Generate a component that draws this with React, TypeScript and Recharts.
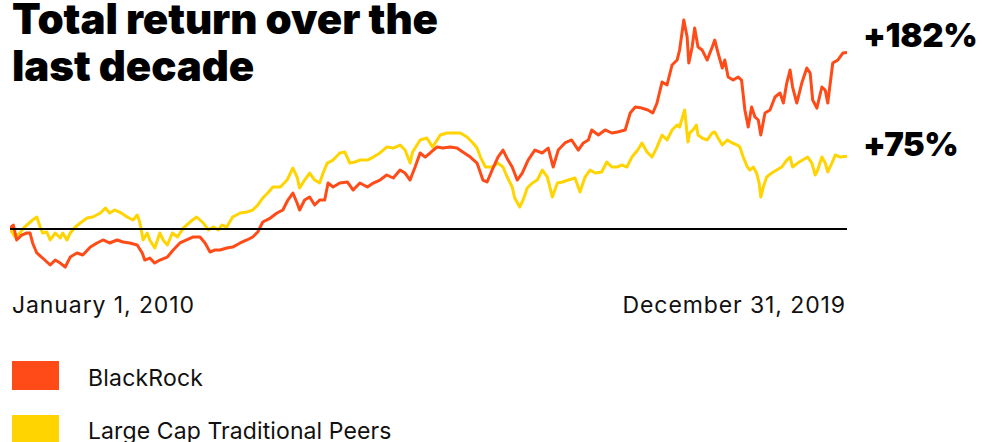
import React from "react";
import { LineChart, Line, XAxis, YAxis, ReferenceLine } from "recharts";

// Years since Jan 1, 2010 and total return (%)
const blackrockYears = [
  0.0, 0.04, 0.08, 0.14, 0.2, 0.24, 0.27, 0.32, 0.39, 0.48, 0.54, 0.6, 0.66, 0.72, 0.8, 0.87, 0.96, 1.04, 1.11, 1.19,
  1.28, 1.35, 1.43, 1.52, 1.58, 1.61, 1.67, 1.73, 1.79, 1.88, 1.95, 2.03, 2.11, 2.19, 2.27, 2.33, 2.39, 2.45, 2.51, 2.59,
  2.66, 2.75, 2.83, 2.9, 2.96, 3.02, 3.11, 3.19, 3.26, 3.32, 3.38, 3.43, 3.46, 3.52, 3.58, 3.64, 3.7, 3.76, 3.8, 3.86,
  3.94, 4.03, 4.1, 4.18, 4.27, 4.34, 4.42, 4.5, 4.58, 4.66, 4.72, 4.78, 4.84, 4.9, 4.96, 5.02, 5.1, 5.17, 5.26, 5.34,
  5.41, 5.5, 5.58, 5.65, 5.7, 5.76, 5.83, 5.89, 5.95, 6.0, 6.06, 6.12, 6.19, 6.27, 6.36, 6.43, 6.49, 6.55, 6.63, 6.71,
  6.79, 6.85, 6.91, 6.95, 7.03, 7.11, 7.19, 7.26, 7.35, 7.41, 7.47, 7.55, 7.62, 7.68, 7.73, 7.79, 7.85, 7.91, 7.97, 8.0,
  8.05, 8.09, 8.11, 8.15, 8.18, 8.22, 8.27, 8.33, 8.39, 8.42, 8.46, 8.51, 8.54, 8.58, 8.64, 8.7, 8.74, 8.78, 8.82, 8.86,
  8.9, 8.94, 8.97, 9.02, 9.08, 9.14, 9.2, 9.24, 9.28, 9.32, 9.35, 9.4, 9.46, 9.52, 9.56, 9.59, 9.64, 9.7, 9.74, 9.77,
  9.8, 9.83, 9.89, 9.95, 10.0,
];
const blackrockReturns = [
  1.0, 4.1, -11.3, -6.2, -4.1, -4.1, -14.4, -24.7, -29.9, -37.1, -32.0, -35.1, -39.2, -28.9, -24.7, -26.8, -18.6, -14.4, -11.3, -14.4,
  -11.3, -13.4, -14.4, -16.5, -24.7, -32.0, -29.9, -35.1, -32.0, -28.9, -21.6, -14.4, -11.3, -8.2, -8.2, -14.4, -23.7, -21.6, -21.6, -19.6,
  -18.6, -14.4, -11.3, -8.2, -3.1, 7.2, 11.3, 16.5, 19.6, 29.9, 37.1, 26.8, 19.6, 29.9, 33.0, 24.7, 29.9, 29.9, 47.4, 43.3,
  47.4, 48.5, 40.2, 47.4, 43.3, 47.4, 50.5, 55.7, 52.6, 60.8, 57.7, 50.5, 63.9, 78.4, 74.2, 78.4, 84.5, 83.5, 84.5, 83.5,
  79.4, 74.2, 68.0, 50.5, 48.5, 60.8, 74.2, 81.4, 71.1, 63.9, 50.5, 57.7, 71.1, 81.4, 78.4, 83.5, 63.9, 81.4, 88.7, 91.8,
  81.4, 88.7, 91.8, 102.1, 96.9, 102.1, 99.0, 100.0, 102.1, 119.6, 125.8, 124.7, 122.7, 119.6, 129.9, 151.5, 148.5, 169.1, 174.2, 184.5,
  215.5, 197.9, 171.1, 187.6, 207.2, 187.6, 184.5, 174.2, 187.6, 194.8, 181.4, 166.0, 174.2, 156.7, 153.6, 156.7, 153.6, 122.7, 105.2, 125.8,
  115.5, 112.4, 96.9, 119.6, 122.7, 136.1, 140.2, 129.9, 150.5, 163.9, 146.4, 129.9, 150.5, 166.0, 160.8, 133.0, 124.7, 146.4, 143.3, 129.9,
  150.5, 171.1, 174.2, 181.4, 182.0,
];

const peersYears = [
  0.0, 0.06, 0.12, 0.16, 0.2, 0.27, 0.32, 0.36, 0.39, 0.44, 0.48, 0.54, 0.6, 0.63, 0.68, 0.72, 0.78, 0.84, 0.92, 0.99,
  1.08, 1.14, 1.19, 1.25, 1.31, 1.4, 1.47, 1.52, 1.55, 1.59, 1.64, 1.67, 1.73, 1.79, 1.83, 1.88, 1.94, 2.0, 2.07, 2.15,
  2.23, 2.31, 2.37, 2.43, 2.49, 2.53, 2.59, 2.66, 2.75, 2.83, 2.9, 2.96, 3.02, 3.08, 3.14, 3.23, 3.31, 3.35, 3.38, 3.43,
  3.46, 3.52, 3.58, 3.64, 3.7, 3.74, 3.79, 3.86, 3.94, 4.0, 4.06, 4.12, 4.18, 4.27, 4.34, 4.42, 4.5, 4.58, 4.66, 4.72,
  4.78, 4.81, 4.9, 4.98, 5.05, 5.14, 5.22, 5.29, 5.38, 5.46, 5.53, 5.58, 5.62, 5.68, 5.76, 5.83, 5.89, 5.94, 6.0, 6.03,
  6.09, 6.13, 6.18, 6.24, 6.3, 6.36, 6.42, 6.48, 6.54, 6.6, 6.67, 6.75, 6.81, 6.87, 6.93, 6.99, 7.07, 7.13, 7.19, 7.25,
  7.31, 7.37, 7.43, 7.47, 7.5, 7.55, 7.61, 7.67, 7.73, 7.79, 7.85, 7.91, 7.97, 8.0, 8.06, 8.1, 8.12, 8.16, 8.2, 8.22,
  8.27, 8.33, 8.39, 8.42, 8.46, 8.51, 8.57, 8.63, 8.69, 8.72, 8.76, 8.81, 8.84, 8.88, 8.92, 8.95, 8.97, 9.0, 9.04, 9.1,
  9.16, 9.22, 9.28, 9.32, 9.35, 9.41, 9.47, 9.53, 9.58, 9.62, 9.65, 9.7, 9.74, 9.77, 9.82, 9.86, 9.92, 10.0,
];
const peersReturns = [
  0.0, -8.2, -4.1, 1.0, 4.1, 9.3, 12.4, 2.1, -4.1, -3.1, -11.3, -4.1, -9.3, -4.1, -11.3, -4.1, 2.1, 6.2, 11.3, 12.4,
  16.5, 21.6, 16.5, 19.6, 17.5, 12.4, 9.3, 14.4, 7.2, -11.3, -4.1, -11.3, -19.6, -4.1, -11.3, -16.5, -4.1, -8.2, 1.0, 7.2,
  12.4, 6.2, -1.0, 2.1, -1.0, 4.1, 2.1, 12.4, 16.5, 17.5, 19.6, 24.7, 32.0, 37.1, 43.3, 43.3, 50.5, 57.7, 62.9, 53.6,
  42.3, 50.5, 57.7, 50.5, 47.4, 57.7, 68.0, 71.1, 78.4, 79.4, 68.0, 69.1, 71.1, 71.1, 74.2, 78.4, 84.5, 83.5, 86.6, 81.4,
  68.0, 79.4, 91.8, 93.8, 84.5, 96.9, 99.0, 99.0, 99.0, 94.8, 88.7, 83.5, 74.2, 63.9, 63.9, 68.0, 63.9, 53.6, 43.3, 32.0,
  22.7, 29.9, 42.3, 47.4, 50.5, 60.8, 53.6, 33.0, 47.4, 48.5, 50.5, 52.6, 38.1, 53.6, 60.8, 57.7, 58.8, 69.1, 63.9, 63.9,
  66.0, 63.9, 74.2, 78.4, 81.4, 88.7, 79.4, 74.2, 84.5, 96.9, 91.8, 102.1, 107.2, 105.2, 122.7, 89.7, 99.0, 102.1, 107.2, 96.9,
  93.8, 91.8, 99.0, 100.0, 93.8, 86.6, 91.8, 88.7, 86.6, 84.5, 74.2, 63.9, 60.8, 63.9, 57.7, 47.4, 33.0, 43.3, 53.6, 57.7,
  60.8, 63.9, 71.1, 74.2, 63.9, 68.0, 71.1, 74.2, 68.0, 55.7, 60.8, 74.2, 68.0, 58.8, 68.0, 76.3, 74.2, 75.0,
];

const seriesNames = ["BlackRock", "Large Cap Traditional Peers"];
const endLabels = ["+182%", "+75%"];
const dateLabels = ["January 1, 2010", "December 31, 2019"];
const titleLines = ["Total return over the", "last decade"];

const ORANGE = "#ff4b17";
const YELLOW = "#ffd400";

const blackrockData = blackrockYears.map((t, i) => ({ t, v: blackrockReturns[i] }));
const peersData = peersYears.map((t, i) => ({ t, v: peersReturns[i] }));

const FONT = "Inter, 'Noto Sans', sans-serif";

export default function App() {
  return (
    <div style={{ position: "absolute", left: 0, top: 0, width: 982, height: 442, background: "#fff", overflow: "hidden" }}>
      <LineChart
        width={982}
        height={442}
        margin={{ top: 10, right: 135, bottom: 167, left: 10 }}
      >
        <XAxis type="number" dataKey="t" domain={[0, 10]} hide allowDataOverflow />
        <YAxis type="number" domain={[-47.4, 225.8]} hide allowDataOverflow />
        <Line
          data={peersData}
          dataKey="v"
          stroke={YELLOW}
          strokeWidth={3}
          dot={false}
          isAnimationActive={false}
          strokeLinejoin="round"
        />
        <Line
          data={blackrockData}
          dataKey="v"
          stroke={ORANGE}
          strokeWidth={3}
          dot={false}
          isAnimationActive={false}
          strokeLinejoin="round"
        />
        <ReferenceLine y={0} stroke="#000" strokeWidth={2} />
      </LineChart>
      <svg
        width={982}
        height={442}
        style={{ position: "absolute", left: 0, top: 0, pointerEvents: "none" }}
      >
        <text x={12} y={34} fontFamily={FONT} fontWeight={900} fontSize={42} fill="#000" letterSpacing={-0.1}>
          {titleLines[0]}
        </text>
        <text x={12} y={81} fontFamily={FONT} fontWeight={900} fontSize={42} fill="#000" letterSpacing={-0.1}>
          {titleLines[1]}
        </text>
        <text x={863} y={47} fontFamily={FONT} fontWeight={900} fontSize={33} fill="#000" letterSpacing={-0.3}>
          {endLabels[0]}
        </text>
        <text x={863} y={156} fontFamily={FONT} fontWeight={900} fontSize={33} fill="#000" letterSpacing={-0.6}>
          {endLabels[1]}
        </text>
        <text x={12} y={313} fontFamily={FONT} fontSize={23} fill="#111" letterSpacing={0.9}>
          {dateLabels[0]}
        </text>
        <text x={846} y={313} textAnchor="end" fontFamily={FONT} fontSize={23} fill="#111" letterSpacing={0.9}>
          {dateLabels[1]}
        </text>
        <rect x={12} y={361} width={47} height={29} fill={ORANGE} />
        <rect x={12} y={415} width={47} height={29} fill={YELLOW} />
        <text x={88} y={386} fontFamily={FONT} fontSize={23} fill="#111" letterSpacing={0.2}>
          {seriesNames[0]}
        </text>
        <text x={88} y={439} fontFamily={FONT} fontSize={23} fill="#111" letterSpacing={0.1}>
          {seriesNames[1]}
        </text>
      </svg>
    </div>
  );
}
